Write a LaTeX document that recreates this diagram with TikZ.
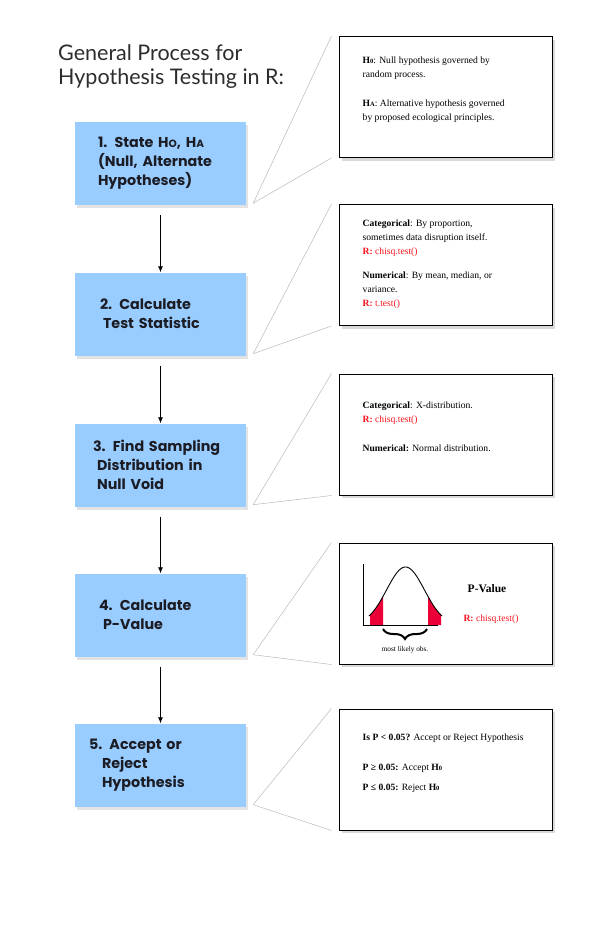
\documentclass[tikz,border=0pt]{standalone}
\usepackage{fontspec}
\setmainfont{Liberation Serif}
\newfontfamily\stepfont{Poppins}
\newfontfamily\titlefont{Lato}
\usetikzlibrary{positioning,arrows.meta,shadows,decorations.pathreplacing}

\definecolor{stepblue}{RGB}{153,204,255}
\definecolor{stepink}{RGB}{28,28,36}
\definecolor{titlegray}{RGB}{45,45,45}
\definecolor{rred}{RGB}{250,20,30}
\definecolor{tailred}{RGB}{235,0,55}

\newcommand{\lowcap}[1]{{\fontsize{6.5}{6.5}\selectfont #1}}
\newcommand{\stepcap}[1]{{\fontsize{10.5}{10.5}\selectfont #1}}

\begin{document}
\begin{tikzpicture}[x=1pt, y=-1pt,
    stepbox/.style={fill=stepblue, minimum width=171pt, minimum height=83pt, text width=143pt, inner xsep=14pt, align=left, text=stepink, font=\stepfont\bfseries\fontsize{14.3}{19}\selectfont, drop shadow={shadow xshift=2pt, shadow yshift=-3pt, opacity=0.22}},
    infobox/.style={draw, line width=1pt, fill=white, minimum width=213pt, minimum height=121pt, drop shadow={shadow xshift=2.5pt, shadow yshift=-3pt, opacity=0.3}},
    infotext/.style={anchor=north west, align=left, inner sep=0pt, font=\fontsize{9.6}{14}\selectfont},
    arr/.style={-{Latex[length=6pt, width=5pt]}, line width=0.8pt},
    link/.style={draw=gray!55, line width=0.5pt}
]
\useasboundingbox (0,0) rectangle (600,940);

% Title
\node[font=\titlefont\fontsize{21.5}{24.5}\selectfont, text=titlegray, anchor=north west, align=left, inner sep=0pt] (title) at (58,44) {General Process for\\Hypothesis Testing in R:};

% Steps (left column)
\node[stepbox] (s1) at (160.5,163.5) {\hspace*{9pt}1. State H\stepcap{O}, H\stepcap{A}\\\hspace*{9pt}(Null, Alternate\\\hspace*{9pt}Hypotheses)};
\node[stepbox] (s2) at (160.5,314) {\hspace*{11pt}2. Calculate\\\hspace*{14pt}Test Statistic};
\node[stepbox] (s3) at (160.5,465) {\hspace*{4pt}3. Find Sampling\\\hspace*{8pt}Distribution in\\\hspace*{8pt}Null Void};
\node[stepbox] (s4) at (160.5,615) {\hspace*{10pt}4. Calculate\\\hspace*{14pt}P-Value};
\node[stepbox] (s5) at (160.5,765) {5. Accept or\\\hspace*{13pt}Reject\\\hspace*{13pt}Hypothesis};

\foreach \a/\b in {1/2,2/3,3/4,4/5}
    \draw[arr] ([yshift=-10pt]s\a.south) -- (s\b.north);

% Notes (right column)
\node[infobox] (info1) at (445.5,97) {};
\node[infobox] (info2) at (445.5,265) {};
\node[infobox] (info3) at (445.5,434.5) {};
\node[infobox] (info4) at (445.5,603.5) {};
\node[infobox] (info5) at (445.5,769.5) {};

\node[infotext] (note1) at ([xshift=24pt, yshift=-21pt]info1.north west) {\textbf{H\lowcap{0}}: Null hypothesis governed by\\random process.\\[15pt]\textbf{H\lowcap{A}}: Alternative hypothesis governed\\by proposed ecological principles.};
\node[infotext] (note2) at ([xshift=24pt, yshift=-16pt]info2.north west) {\textbf{Categorical}: By proportion,\\sometimes data disruption itself.\\\textcolor{rred}{\textbf{R:} chisq.test()}\\[10pt]\textbf{Numerical}: By mean, median, or\\variance.\\\textcolor{rred}{\textbf{R:} t.test()}};
\node[infotext] (note3) at ([xshift=24pt, yshift=-28pt]info3.north west) {\textbf{Categorical}: X-distribution.\\\textcolor{rred}{\textbf{R:} chisq.test()}\\[15pt]\textbf{Numerical:} Normal distribution.};
\node[infotext] (note5) at ([xshift=24pt, yshift=-25pt]info5.north west) {\textbf{Is P < 0.05?} Accept or Reject Hypothesis\\[16pt]\textbf{P ≥ 0.05:} Accept \textbf{H\lowcap{0}}\\[6pt]\textbf{P ≤ 0.05:} Reject \textbf{H\lowcap{0}}};

% P-value sketch
\fill[tailred] (370,625) -- plot[domain=370:383, samples=20] (\x,{625-58*exp(-0.5*((\x-405.5)/18.9)^2)}) -- (383,625) -- cycle;
\fill[tailred] (428,625) -- plot[domain=428:441, samples=20] (\x,{625-58*exp(-0.5*((\x-405.5)/18.9)^2)}) -- (441,625) -- cycle;
\draw[line width=0.9pt] (363,564) -- (363,625) -- (438,625);
\draw[line width=0.9pt] plot[domain=369:442, samples=80, smooth] (\x,{625-58*exp(-0.5*((\x-405.5)/18.9)^2)});
\draw[decorate, decoration={brace, amplitude=10pt, mirror}, line width=2pt] (383,629) -- (427,629);
\node[font=\fontsize{7.3}{8}\selectfont] (likely) at (405,650) {most likely obs.};
\node[font=\bfseries\fontsize{11.5}{13}\selectfont] (pval) at (487,589) {P-Value};
\node[text=rred, font=\fontsize{9.6}{11}\selectfont] (pcode) at (491,619) {\textbf{R:} chisq.test()};

% Links from each step to its note
\foreach \i in {1,...,5} {
    \draw[link] ([shift={(7pt,2pt)}]s\i.south east) -- ([xshift=-7pt]info\i.north west);
    \draw[link] ([shift={(7pt,2pt)}]s\i.south east) -- ([xshift=-7pt]info\i.south west);
}
\end{tikzpicture}
\end{document}
